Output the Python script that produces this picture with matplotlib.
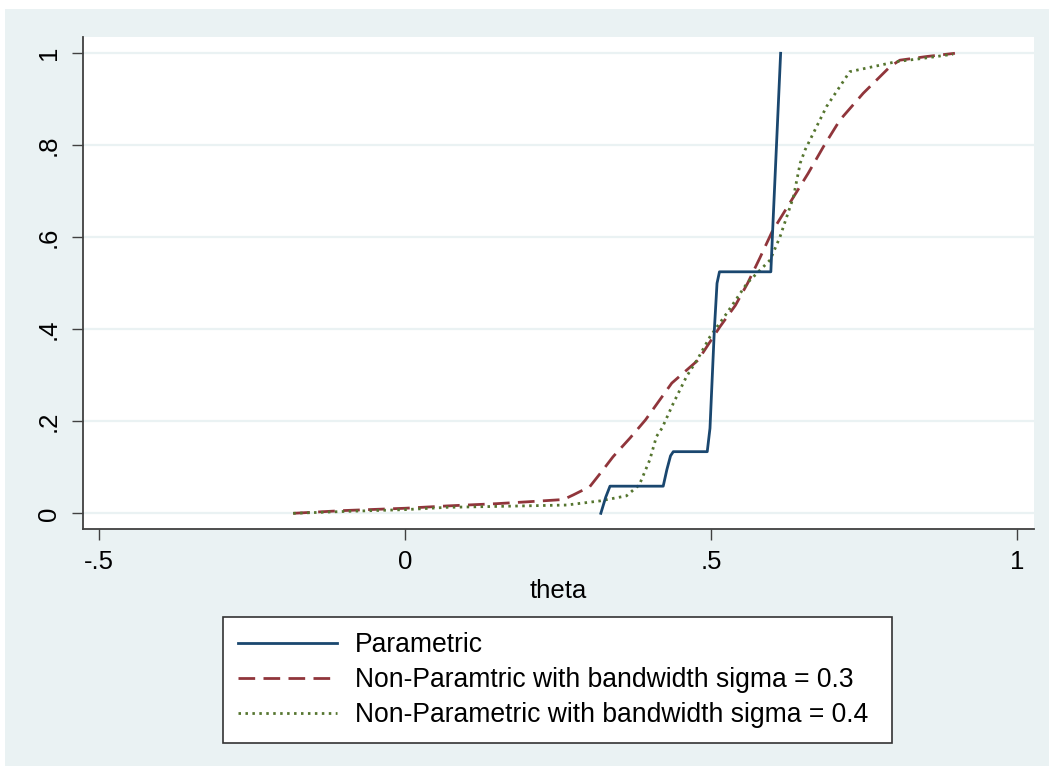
import matplotlib
import matplotlib.pyplot as plt
from matplotlib.patches import Rectangle

matplotlib.use("Agg")

plt.rcParams["font.family"] = ["Liberation Sans", "DejaVu Sans"]

OUTER_BG = "#eaf2f3"
GRID_COLOR = "#eaf2f3"
AXIS_COLOR = "#404040"
NAVY = "#1a476f"
MAROON = "#90353b"
GREEN = "#55752f"

# series
param_x = [0.320, 0.328, 0.335, 0.422, 0.428, 0.434, 0.4385, 0.494, 0.4985, 0.5056, 0.510, 0.514, 0.598, 0.601, 0.614]
param_y = [0.000, 0.035, 0.059, 0.059, 0.095, 0.125, 0.134, 0.134, 0.185, 0.398, 0.500, 0.525, 0.525, 0.616, 1.000]

np3_x = [-0.183, -0.10, 0.000, 0.068, 0.150, 0.200, 0.259, 0.275, 0.302, 0.321, 0.340, 0.368, 0.393,
         0.436, 0.479, 0.515, 0.540, 0.560, 0.580, 0.600, 0.632, 0.659, 0.684, 0.711, 0.749, 0.793,
         0.809, 0.853, 0.899]
np3_y = [0.000, 0.006, 0.011, 0.016, 0.021, 0.025, 0.030, 0.040, 0.058, 0.090, 0.123, 0.164, 0.203,
         0.283, 0.333, 0.406, 0.452, 0.500, 0.555, 0.612, 0.681, 0.739, 0.797, 0.855, 0.913, 0.971,
         0.985, 0.993, 1.000]

np4_x = [-0.183, -0.10, 0.000, 0.068, 0.150, 0.264, 0.319, 0.362, 0.383, 0.400, 0.411, 0.420, 0.4385,
         0.460, 0.479, 0.4985, 0.526, 0.559, 0.597, 0.613, 0.635, 0.646, 0.654, 0.689, 0.727, 0.804,
         0.847, 0.896]
np4_y = [0.000, 0.004, 0.008, 0.013, 0.015, 0.018, 0.027, 0.038, 0.062, 0.116, 0.167, 0.185, 0.239,
         0.297, 0.337, 0.384, 0.435, 0.500, 0.551, 0.601, 0.688, 0.761, 0.790, 0.884, 0.960, 0.982,
         0.989, 0.998]

series_labels = [
    "Parametric",
    "Non-Paramtric with bandwidth sigma = 0.3",
    "Non-Parametric with bandwidth sigma = 0.4",
]

x_ticks = [-0.5, 0, 0.5, 1]
x_tick_labels = ["-.5", "0", ".5", "1"]
y_ticks = [0, 0.2, 0.4, 0.6, 0.8, 1]
y_tick_labels = ["0", ".2", ".4", ".6", ".8", "1"]
x_label = "theta"

W, H = 1049, 768
fig = plt.figure(figsize=(W / 100, H / 100), dpi=100)
fig.patch.set_facecolor("white")
fig.patches.append(
    Rectangle((4.5 / W, 2 / H), 1 - 4.5 / W, (H - 11) / H,
              transform=fig.transFigure, facecolor=OUTER_BG, edgecolor="none", zorder=-10)
)

ax = fig.add_axes([83 / W, 1 - 529 / H, (1034 - 83) / W, (529 - 37) / H])
ax.set_facecolor("white")

ax.plot(param_x, param_y, color=NAVY, lw=2.0, label=series_labels[0], zorder=4)
ax.plot(np3_x, np3_y, color=MAROON, lw=2.0, dashes=(6, 3), label=series_labels[1], zorder=3)
ax.plot(np4_x, np4_y, color=GREEN, lw=2.0, dashes=(0.9, 1.6), label=series_labels[2], zorder=3)

ax.set_xlim(-0.5267, 1.0283)
ax.set_ylim(-0.0341, 1.0354)

ax.set_xticks(x_ticks)
ax.set_xticklabels(x_tick_labels)
ax.set_yticks(y_ticks)
ax.set_yticklabels(y_tick_labels)
for label in ax.get_yticklabels():
    label.set_rotation(90)
    label.set_va("center")

ax.yaxis.grid(True, color=GRID_COLOR, lw=1.6, zorder=0)
ax.set_axisbelow(True)

for side in ("top", "right"):
    ax.spines[side].set_visible(False)
for side in ("left", "bottom"):
    ax.spines[side].set_color(AXIS_COLOR)
    ax.spines[side].set_linewidth(1.3)

ax.tick_params(axis="both", direction="out", length=8, width=1, color=AXIS_COLOR,
               labelsize=18.5, labelcolor="black")
ax.tick_params(axis="x", pad=7)
ax.tick_params(axis="y", pad=8)

ax.set_xlabel(x_label, fontsize=18.5, labelpad=4)

leg = fig.legend(
    loc="upper left",
    bbox_to_anchor=(223 / W, 1 - 741 / H, (892 - 223) / W, (741 - 617) / H),
    mode="expand",
    ncol=1,
    fontsize=19.1,
    handlelength=3.7,
    handletextpad=0.7,
    labelspacing=0.33,
    borderpad=0.58,
    borderaxespad=0,
    frameon=True,
    fancybox=False,
)
leg.get_frame().set_edgecolor("#333333")
leg.get_frame().set_linewidth(1.2)
leg.get_frame().set_facecolor("white")
leg.get_frame().set_alpha(1)

fig.savefig("out.png", dpi=100, facecolor=fig.get_facecolor())
plt.close(fig)
